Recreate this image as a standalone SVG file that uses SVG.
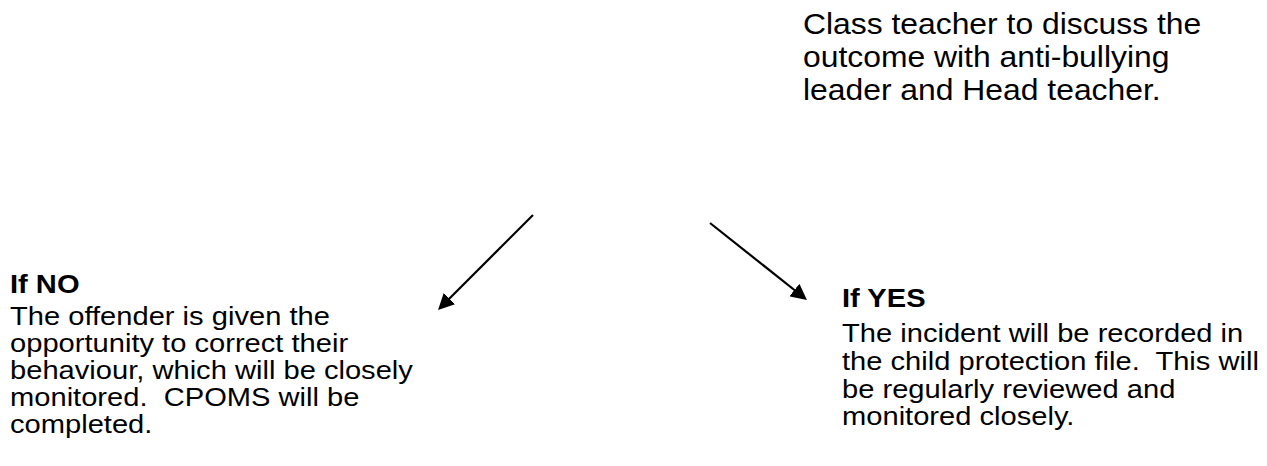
<svg xmlns="http://www.w3.org/2000/svg" width="1267" height="466" viewBox="0 0 1267 466">
  <style>
    .txt { font-family: "Liberation Sans", Arial, sans-serif; fill: #000; white-space: pre; }
    .head { font-size: 29.5px; }
    .body { font-size: 26px; }
    .bold { font-weight: bold; }
    .conn { stroke: #000; stroke-width: 2.2; fill: none; marker-end: url(#arrow); }
  </style>
  <defs>
    <marker id="arrow" viewBox="0 0 16 16" markerWidth="16" markerHeight="16" refX="8" refY="8" orient="auto" markerUnits="userSpaceOnUse">
      <path d="M0,0 L16,8 L0,16 z" fill="#000"/>
    </marker>
  </defs>

  <rect width="1267" height="466" fill="#fff"/>

  <!-- Discussion step -->
  <g id="discuss">
    <text class="txt head" transform="translate(803,34) scale(1.08,1)">Class teacher to discuss the</text>
    <text class="txt head" transform="translate(803,67) scale(1.08,1)">outcome with anti-bullying</text>
    <text class="txt head" transform="translate(803,100) scale(1.08,1)">leader and Head teacher.</text>
  </g>

  <!-- Outcome: no -->
  <g id="if-no">
    <text class="txt body bold" transform="translate(10,293) scale(1.12,1)">If NO</text>
    <text class="txt body" transform="translate(10,325) scale(1.12,1)">The offender is given the</text>
    <text class="txt body" transform="translate(10,352) scale(1.12,1)">opportunity to correct their</text>
    <text class="txt body" transform="translate(10,379) scale(1.12,1)">behaviour, which will be closely</text>
    <text class="txt body" transform="translate(10,406) scale(1.12,1)">monitored.  CPOMS will be</text>
    <text class="txt body" transform="translate(10,433) scale(1.12,1)">completed.</text>
  </g>

  <!-- Outcome: yes -->
  <g id="if-yes">
    <text class="txt body bold" transform="translate(842,307) scale(1.12,1)">If YES</text>
    <text class="txt body" transform="translate(842,342) scale(1.12,1)">The incident will be recorded in</text>
    <text class="txt body" transform="translate(842,370) scale(1.12,1)">the child protection file.  This will</text>
    <text class="txt body" transform="translate(842,397.5) scale(1.12,1)">be regularly reviewed and</text>
    <text class="txt body" transform="translate(842,425) scale(1.12,1)">monitored closely.</text>
  </g>

  <!-- Connectors -->
  <g id="connectors">
    <line class="conn" x1="533" y1="215" x2="443.7" y2="304.3"/>
    <line class="conn" x1="710" y1="223" x2="800.7" y2="295"/>
  </g>
</svg>
